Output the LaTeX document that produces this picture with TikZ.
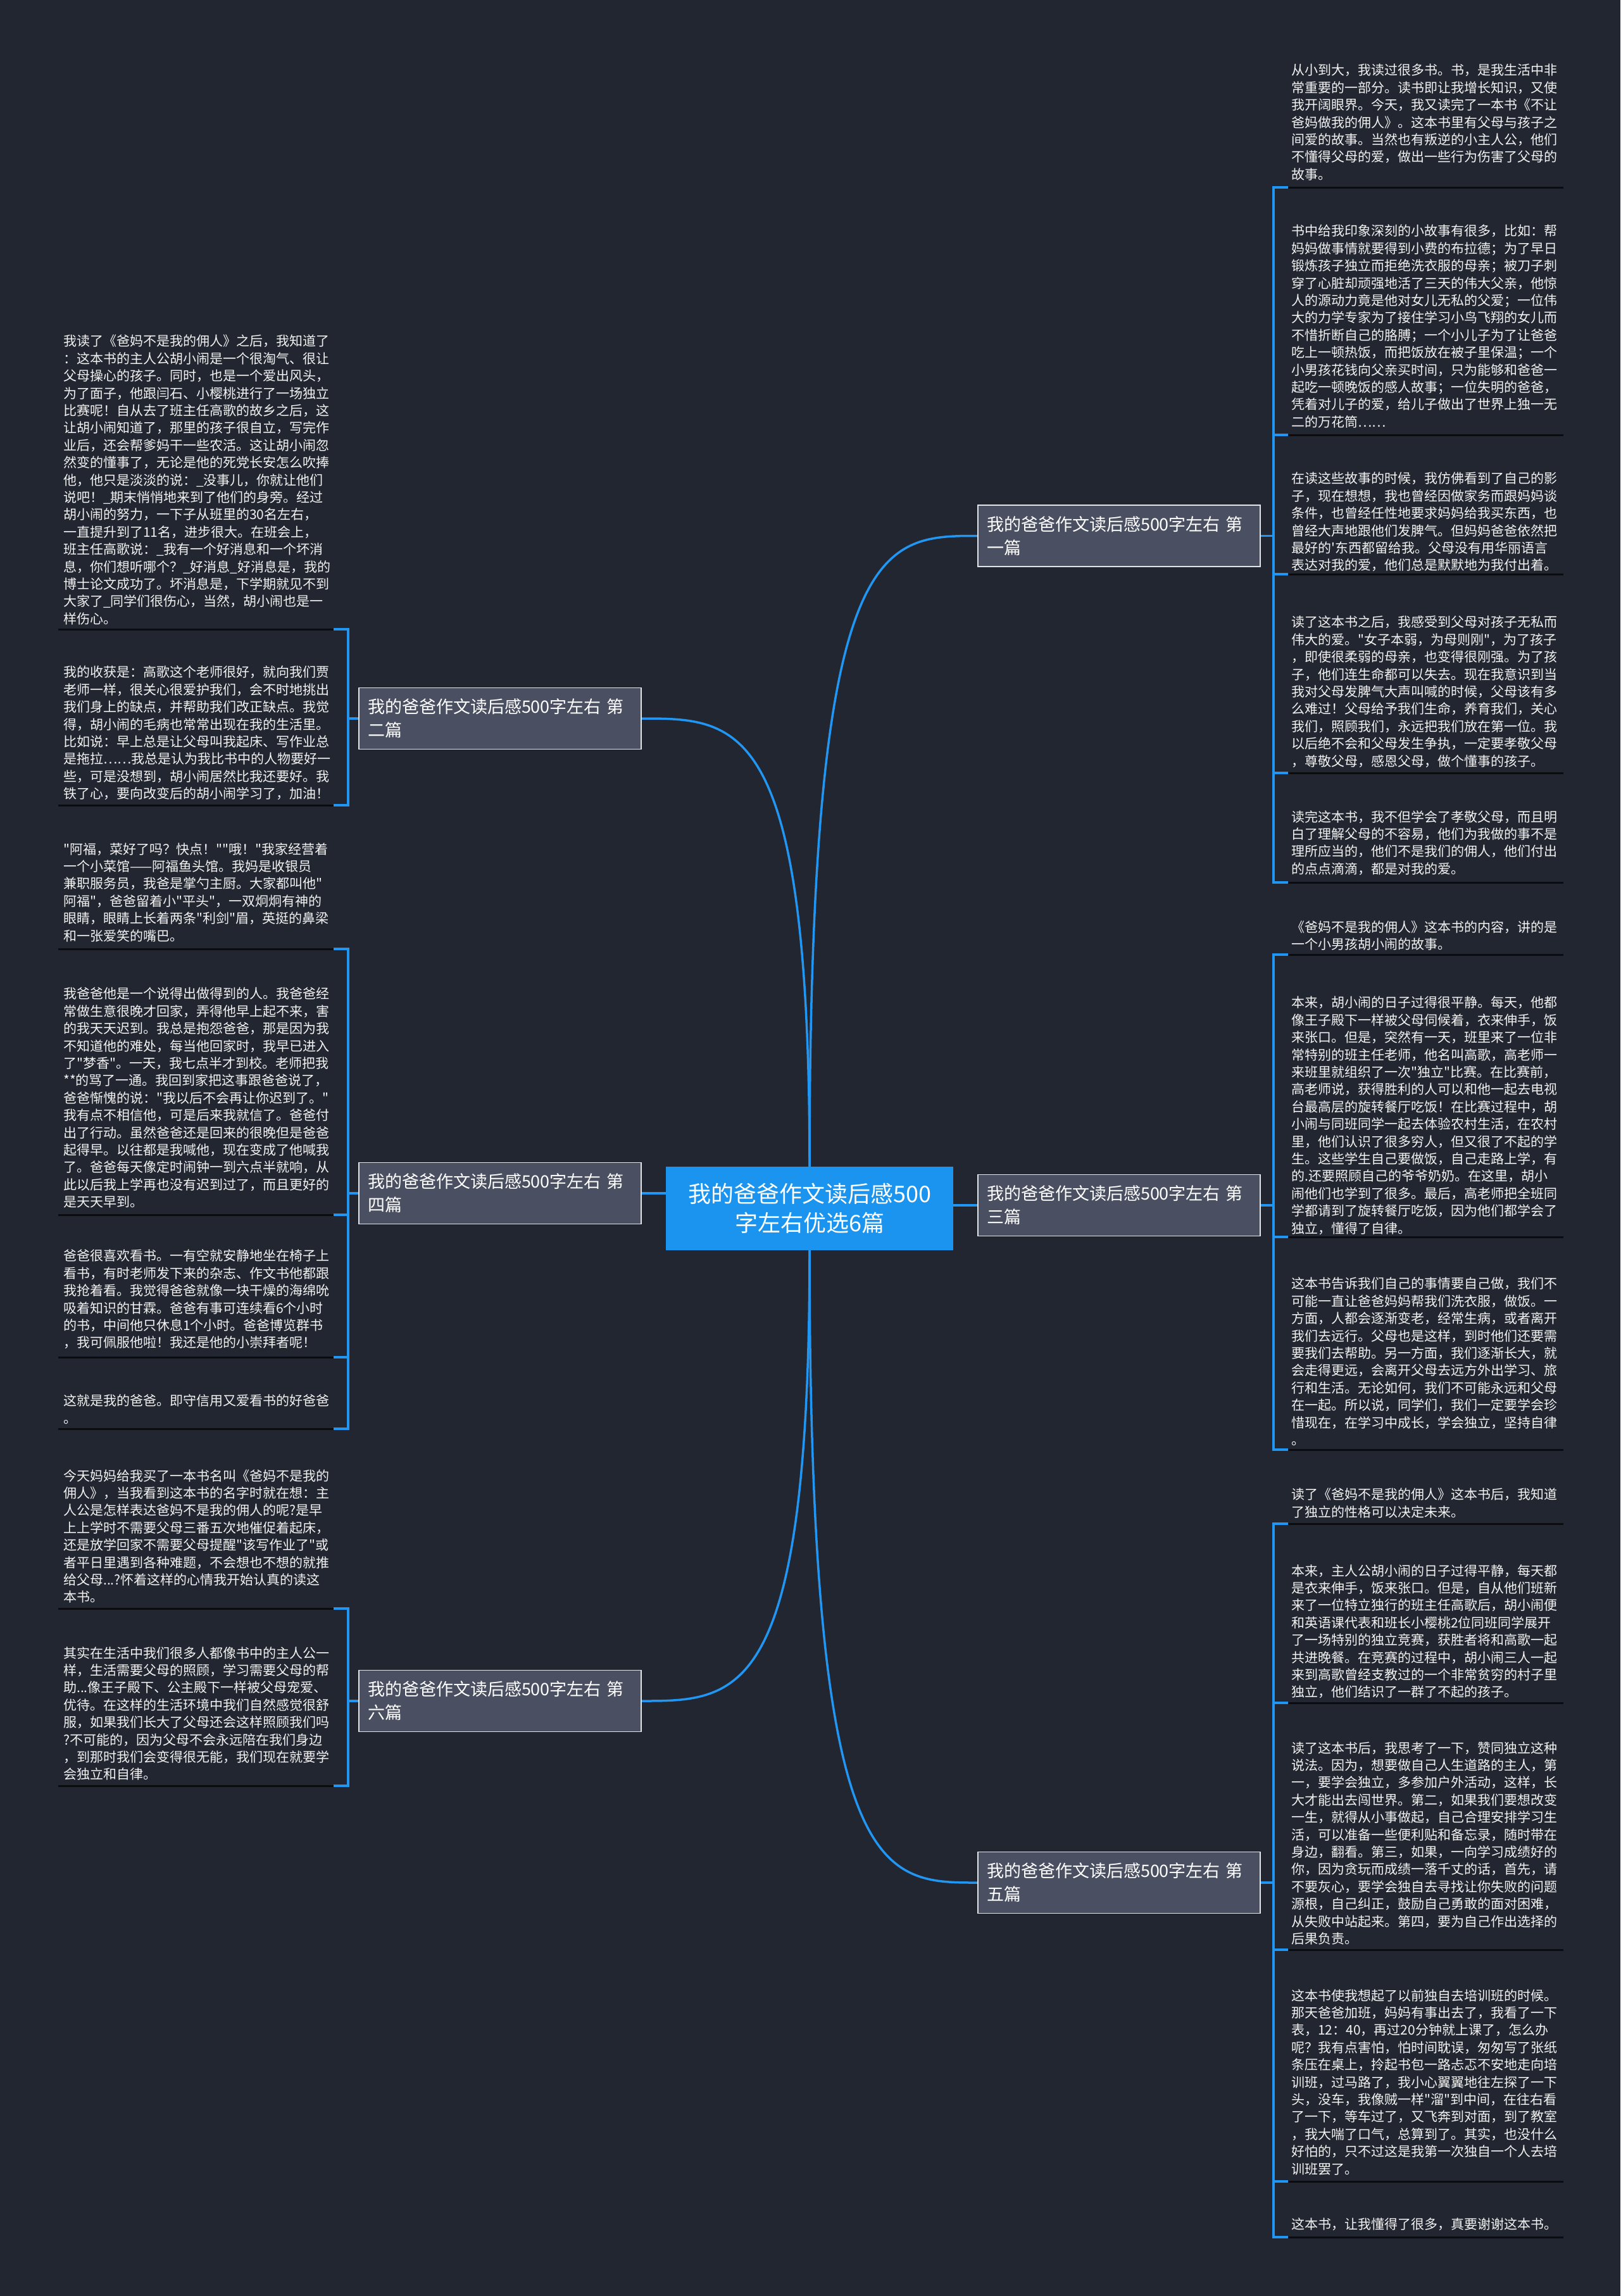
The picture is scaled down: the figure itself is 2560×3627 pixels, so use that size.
\documentclass[tikz,border=0pt]{standalone}
\usepackage{fontspec}
\newfontfamily\cjk{Noto Sans CJK SC}
\definecolor{bg}{RGB}{34,38,48}
\definecolor{cblue}{RGB}{33,150,243}
\definecolor{cfill}{RGB}{26,148,238}
\definecolor{bfill}{RGB}{74,80,97}
\definecolor{bline}{RGB}{225,228,232}
\definecolor{uline}{RGB}{10,12,16}
\definecolor{txt}{RGB}{242,242,242}
\begin{document}
\begin{tikzpicture}[x=1pt,y=-1pt,
 conn/.style={draw=cblue,line width=3.5pt},
 ubar/.style={draw=uline,line width=3pt},
 leaf/.style={anchor=north west,inner sep=0pt,align=left,text=txt,font={\cjk\fontsize{21pt}{27.4pt}\selectfont}},
 branch/.style={draw=bline,line width=1.5pt,fill=bfill,text=white,minimum width=446pt,minimum height=97pt,text width=418pt,align=left,inner xsep=14pt,inner ysep=0pt,font={\cjk\fontsize{27pt}{37pt}\selectfont}},
 root/.style={fill=cfill,text=white,minimum width=454pt,minimum height=132pt,align=center,inner sep=0pt,font={\cjk\fontsize{36pt}{46pt}\selectfont}}]
\fill[bg] (0,0) rectangle (2560,3627);
\useasboundingbox (0,0) rectangle (2560,3627);

% ---------- connectors from root (drawn first) ----------
\coordinate (ctop) at (1279,1843);
\coordinate (cbot) at (1279,1975);
\draw[conn] (ctop) .. controls (1279,846.5) and (1390,846.5) .. (1545,846.5) coordinate (b1w);
\draw[conn] (ctop) .. controls (1279,1135) and (1168,1135) .. (1013,1135) coordinate (b2e);
\draw[conn] (cbot) .. controls (1279,2974) and (1390,2974) .. (1545,2974) coordinate (b5w);
\draw[conn] (cbot) .. controls (1279,2687) and (1168,2687) .. (1013,2687) coordinate (b6e);

% ---------- nodes ----------
\node[root] (c) at (1279,1909) {我的爸爸作文读后感500\\字左右优选6篇};
\node[branch] (b1) at (1768,846.5) {我的爸爸作文读后感500字左右 第\\一篇};
\node[branch] (b2) at (790,1135) {我的爸爸作文读后感500字左右 第\\二篇};
\node[branch] (b3) at (1768,1904) {我的爸爸作文读后感500字左右 第\\三篇};
\node[branch] (b4) at (790,1885) {我的爸爸作文读后感500字左右 第\\四篇};
\node[branch] (b5) at (1768,2974) {我的爸爸作文读后感500字左右 第\\五篇};
\node[branch] (b6) at (790,2687) {我的爸爸作文读后感500字左右 第\\六篇};

\draw[conn] (c.east |- b3.west) -- (b3.west);
\draw[conn] (c.west |- b4.east) -- (b4.east);

% ---------- right leaves: branch 1 ----------
\node[leaf] (r11) at (2040,101) {从小到大，我读过很多书。书，是我生活中非\\常重要的一部分。读书即让我增长知识，又使\\我开阔眼界。今天，我又读完了一本书《不让\\爸妈做我的佣人》。这本书里有父母与孩子之\\间爱的故事。当然也有叛逆的小主人公，他们\\不懂得父母的爱，做出一些行为伤害了父母的\\故事。};
\node[leaf] (r12) at (2040,355) {书中给我印象深刻的小故事有很多，比如：帮\\妈妈做事情就要得到小费的布拉德；为了早日\\锻炼孩子独立而拒绝洗衣服的母亲；被刀子刺\\穿了心脏却顽强地活了三天的伟大父亲，他惊\\人的源动力竟是他对女儿无私的父爱；一位伟\\大的力学专家为了接住学习小鸟飞翔的女儿而\\不惜折断自己的胳膊；一个小儿子为了让爸爸\\吃上一顿热饭，而把饭放在被子里保温；一个\\小男孩花钱向父亲买时间，只为能够和爸爸一\\起吃一顿晚饭的感人故事；一位失明的爸爸，\\凭着对儿子的爱，给儿子做出了世界上独一无\\二的万花筒……};
\node[leaf] (r13) at (2040,746) {在读这些故事的时候，我仿佛看到了自己的影\\子，现在想想，我也曾经因做家务而跟妈妈谈\\条件，也曾经任性地要求妈妈给我买东西，也\\曾经大声地跟他们发脾气。但妈妈爸爸依然把\\最好的'东西都留给我。父母没有用华丽语言\\表达对我的爱，他们总是默默地为我付出着。};
\node[leaf] (r14) at (2040,973) {读了这本书之后，我感受到父母对孩子无私而\\伟大的爱。"女子本弱，为母则刚"，为了孩子\\，即使很柔弱的母亲，也变得很刚强。为了孩\\子，他们连生命都可以失去。现在我意识到当\\我对父母发脾气大声叫喊的时候，父母该有多\\么难过！父母给予我们生命，养育我们，关心\\我们，照顾我们，永远把我们放在第一位。我\\以后绝不会和父母发生争执，一定要孝敬父母\\，尊敬父母，感恩父母，做个懂事的孩子。};
\node[leaf] (r15) at (2040,1280) {读完这本书，我不但学会了孝敬父母，而且明\\白了理解父母的不容易，他们为我做的事不是\\理所应当的，他们不是我们的佣人，他们付出\\的点点滴滴，都是对我的爱。};

% ---------- right leaves: branch 3 ----------
\node[leaf] (r31) at (2040,1454) {《爸妈不是我的佣人》这本书的内容，讲的是\\一个小男孩胡小闹的故事。};
\node[leaf] (r32) at (2040,1574) {本来，胡小闹的日子过得很平静。每天，他都\\像王子殿下一样被父母伺候着，衣来伸手，饭\\来张口。但是，突然有一天，班里来了一位非\\常特别的班主任老师，他名叫高歌，高老师一\\来班里就组织了一次"独立"比赛。在比赛前，\\高老师说，获得胜利的人可以和他一起去电视\\台最高层的旋转餐厅吃饭！在比赛过程中，胡\\小闹与同班同学一起去体验农村生活，在农村\\里，他们认识了很多穷人，但又很了不起的学\\生。这些学生自己要做饭，自己走路上学，有\\的.还要照顾自己的爷爷奶奶。在这里，胡小\\闹他们也学到了很多。最后，高老师把全班同\\学都请到了旋转餐厅吃饭，因为他们都学会了\\独立，懂得了自律。};
\node[leaf] (r33) at (2040,2018) {这本书告诉我们自己的事情要自己做，我们不\\可能一直让爸爸妈妈帮我们洗衣服，做饭。一\\方面，人都会逐渐变老，经常生病，或者离开\\我们去远行。父母也是这样，到时他们还要需\\要我们去帮助。另一方面，我们逐渐长大，就\\会走得更远，会离开父母去远方外出学习、旅\\行和生活。无论如何，我们不可能永远和父母\\在一起。所以说，同学们，我们一定要学会珍\\惜现在，在学习中成长，学会独立，坚持自律\\。};

% ---------- right leaves: branch 5 ----------
\node[leaf] (r51) at (2040,2351) {读了《爸妈不是我的佣人》这本书后，我知道\\了独立的性格可以决定未来。};
\node[leaf] (r52) at (2040,2471) {本来，主人公胡小闹的日子过得平静，每天都\\是衣来伸手，饭来张口。但是，自从他们班新\\来了一位特立独行的班主任高歌后，胡小闹便\\和英语课代表和班长小樱桃2位同班同学展开\\了一场特别的独立竞赛，获胜者将和高歌一起\\共进晚餐。在竞赛的过程中，胡小闹三人一起\\来到高歌曾经支教过的一个非常贫穷的村子里\\独立，他们结识了一群了不起的孩子。};
\node[leaf] (r53) at (2040,2751) {读了这本书后，我思考了一下，赞同独立这种\\说法。因为，想要做自己人生道路的主人，第\\一，要学会独立，多参加户外活动，这样，长\\大才能出去闯世界。第二，如果我们要想改变\\一生，就得从小事做起，自己合理安排学习生\\活，可以准备一些便利贴和备忘录，随时带在\\身边，翻看。第三，如果，一向学习成绩好的\\你，因为贪玩而成绩一落千丈的话，首先，请\\不要灰心，要学会独自去寻找让你失败的问题\\源根，自己纠正，鼓励自己勇敢的面对困难，\\从失败中站起来。第四，要为自己作出选择的\\后果负责。};
\node[leaf] (r54) at (2040,3142) {这本书使我想起了以前独自去培训班的时候。\\那天爸爸加班，妈妈有事出去了，我看了一下\\表，12：40，再过20分钟就上课了，怎么办\\呢？我有点害怕，怕时间耽误，匆匆写了张纸\\条压在桌上，拎起书包一路忐忑不安地走向培\\训班，过马路了，我小心翼翼地往左探了一下\\头，没车，我像贼一样"溜"到中间，在往右看\\了一下，等车过了，又飞奔到对面，到了教室\\，我大喘了口气，总算到了。其实，也没什么\\好怕的，只不过这是我第一次独自一个人去培\\训班罢了。};
\node[leaf] (r55) at (2040,3503) {这本书，让我懂得了很多，真要谢谢这本书。};

% ---------- left leaves: branch 2 ----------
\node[leaf] (l21) at (100,529) {我读了《爸妈不是我的佣人》之后，我知道了\\：这本书的主人公胡小闹是一个很淘气、很让\\父母操心的孩子。同时，也是一个爱出风头，\\为了面子，他跟闫石、小樱桃进行了一场独立\\比赛呢！自从去了班主任高歌的故乡之后，这\\让胡小闹知道了，那里的孩子很自立，写完作\\业后，还会帮爹妈干一些农活。这让胡小闹忽\\然变的懂事了，无论是他的死党长安怎么吹捧\\他，他只是淡淡的说：\_没事儿，你就让他们\\说吧！\_期末悄悄地来到了他们的身旁。经过\\胡小闹的努力，一下子从班里的30名左右，\\一直提升到了11名，进步很大。在班会上，\\班主任高歌说：\_我有一个好消息和一个坏消\\息，你们想听哪个？\_好消息\_好消息是，我的\\博士论文成功了。坏消息是，下学期就见不到\\大家了\_同学们很伤心，当然，胡小闹也是一\\样伤心。};
\node[leaf] (l22) at (100,1052) {我的收获是：高歌这个老师很好，就向我们贾\\老师一样，很关心很爱护我们，会不时地挑出\\我们身上的缺点，并帮助我们改正缺点。我觉\\得，胡小闹的毛病也常常出现在我的生活里。\\比如说：早上总是让父母叫我起床、写作业总\\是拖拉……我总是认为我比书中的人物要好一\\些，可是没想到，胡小闹居然比我还要好。我\\铁了心，要向改变后的胡小闹学习了，加油！};

% ---------- left leaves: branch 4 ----------
\node[leaf] (l41) at (100,1331) {"阿福，菜好了吗？快点！""哦！"我家经营着\\一个小菜馆——阿福鱼头馆。我妈是收银员\\兼职服务员，我爸是掌勺主厨。大家都叫他"\\阿福"，爸爸留着小"平头"，一双炯炯有神的\\眼睛，眼睛上长着两条"利剑"眉，英挺的鼻梁\\和一张爱笑的嘴巴。};
\node[leaf] (l42) at (100,1560) {我爸爸他是一个说得出做得到的人。我爸爸经\\常做生意很晚才回家，弄得他早上起不来，害\\的我天天迟到。我总是抱怨爸爸，那是因为我\\不知道他的难处，每当他回家时，我早已进入\\了"梦香"。一天，我七点半才到校。老师把我\\**的骂了一通。我回到家把这事跟爸爸说了，\\爸爸惭愧的说："我以后不会再让你迟到了。"\\我有点不相信他，可是后来我就信了。爸爸付\\出了行动。虽然爸爸还是回来的很晚但是爸爸\\起得早。以往都是我喊他，现在变成了他喊我\\了。爸爸每天像定时闹钟一到六点半就响，从\\此以后我上学再也没有迟到过了，而且更好的\\是天天早到。};
\node[leaf] (l43) at (100,1974) {爸爸很喜欢看书。一有空就安静地坐在椅子上\\看书，有时老师发下来的杂志、作文书他都跟\\我抢着看。我觉得爸爸就像一块干燥的海绵吮\\吸着知识的甘霖。爸爸有事可连续看6个小时\\的书，中间他只休息1个小时。爸爸博览群书\\，我可佩服他啦！我还是他的小崇拜者呢！};
\node[leaf] (l44) at (100,2203) {这就是我的爸爸。即守信用又爱看书的好爸爸\\。};

% ---------- left leaves: branch 6 ----------
\node[leaf] (l61) at (100,2321) {今天妈妈给我买了一本书名叫《爸妈不是我的\\佣人》，当我看到这本书的名字时就在想：主\\人公是怎样表达爸妈不是我的佣人的呢?是早\\上上学时不需要父母三番五次地催促着起床，\\还是放学回家不需要父母提醒"该写作业了"或\\者平日里遇到各种难题，不会想也不想的就推\\给父母...?怀着这样的心情我开始认真的读这\\本书。};
\node[leaf] (l62) at (100,2601) {其实在生活中我们很多人都像书中的主人公一\\样，生活需要父母的照顾，学习需要父母的帮\\助...像王子殿下、公主殿下一样被父母宠爱、\\优待。在这样的生活环境中我们自然感觉很舒\\服，如果我们长大了父母还会这样照顾我们吗\\?不可能的，因为父母不会永远陪在我们身边\\，到那时我们会变得很无能，我们现在就要学\\会独立和自律。};

% ---------- underlines ----------
\foreach \u in {296,687,907,1221,1394,1508,1954,2290,2407,2690,3080,3446,3534}
  {\draw[ubar] (2035,\u) -- (2470,\u);}
\foreach \u in {994,1272,1499,1919,2144,2257,2541,2821}
  {\draw[ubar] (92,\u) -- (527,\u);}

% ---------- brackets (right) ----------
\draw[conn] (b1.east) -- (2012,846.5);
\draw[conn] (2035,296) -- (2012,296) -- (2012,1394) -- (2035,1394);
\foreach \u in {687,907,1221} {\draw[conn] (2012,\u) -- (2035,\u);}
\draw[conn] (b3.east) -- (2012,1904);
\draw[conn] (2035,1508) -- (2012,1508) -- (2012,2290) -- (2035,2290);
\draw[conn] (2012,1954) -- (2035,1954);
\draw[conn] (b5.east) -- (2012,2974);
\draw[conn] (2035,2407) -- (2012,2407) -- (2012,3534) -- (2035,3534);
\foreach \u in {2690,3080,3446} {\draw[conn] (2012,\u) -- (2035,\u);}

% ---------- brackets (left) ----------
\draw[conn] (b2.west) -- (550,1135);
\draw[conn] (527,994) -- (550,994) -- (550,1272) -- (527,1272);
\draw[conn] (b4.west) -- (550,1885);
\draw[conn] (527,1499) -- (550,1499) -- (550,2257) -- (527,2257);
\foreach \u in {1919,2144} {\draw[conn] (527,\u) -- (550,\u);}
\draw[conn] (b6.west) -- (550,2687);
\draw[conn] (527,2541) -- (550,2541) -- (550,2821) -- (527,2821);
\end{tikzpicture}
\end{document}
